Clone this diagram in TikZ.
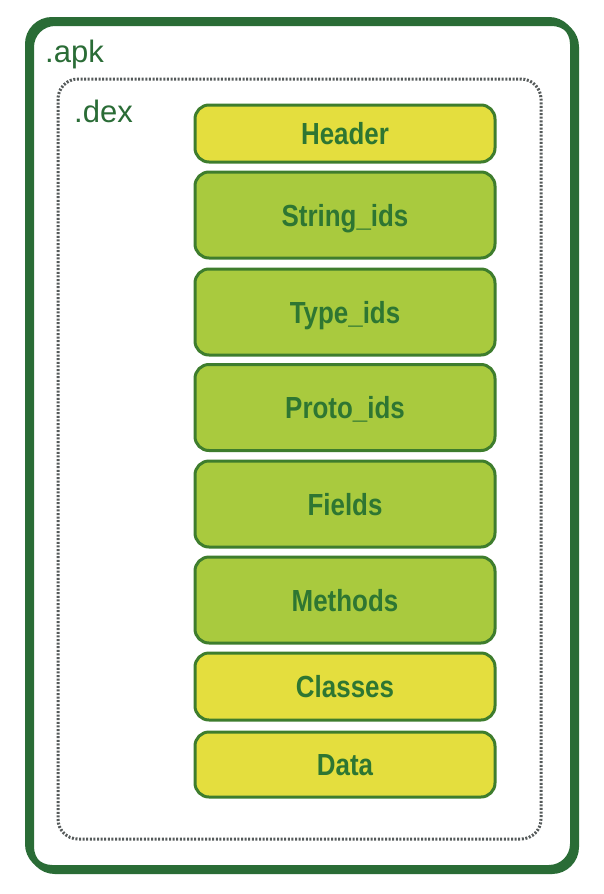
\documentclass[tikz,border=0pt]{standalone}
\usepackage{fontspec}
\setmainfont{Liberation Sans}
\newfontfamily\condfont[FakeStretch=0.85]{Liberation Sans}
\definecolor{frameg}{RGB}{42,108,54}
\definecolor{boxborder}{RGB}{62,125,45}
\definecolor{txtg}{RGB}{46,118,50}
\definecolor{yel}{RGB}{228,222,62}
\definecolor{grn}{RGB}{169,202,62}
\definecolor{dotg}{RGB}{85,90,90}
\tikzset{
  stepbox/.style={draw=boxborder, line width=3pt, rounded corners=14pt,
    minimum width=300pt, inner sep=0pt, text=txtg,
    font=\condfont\bfseries\fontsize{30.5}{30.5}\selectfont, text height=22pt, text depth=0pt},
  yelbox/.style={stepbox, fill=yel},
  grnbox/.style={stepbox, fill=grn},
  lbl/.style={text=frameg, font=\fontsize{31}{31}\selectfont, inner sep=0pt, anchor=base west}
}
\begin{document}
\begin{tikzpicture}[x=1pt,y=-1pt]
\useasboundingbox (0,0) rectangle (604,894);
\fill[white] (0,0) rectangle (604,894);
% outer frame with shadow
\draw[frameg, line width=6pt, rounded corners=24pt] (31,23) rectangle (576,871);
\draw[frameg, line width=6pt, rounded corners=24pt] (28,20) rectangle (573,868);
\node[lbl] (apk) at (45,62) {.apk};
% dotted dex box
\draw[dotg, line width=3pt, dash pattern=on 2pt off 1.6pt, rounded corners=20pt] (58,79) rectangle (541,839);
\node[lbl] (dex) at (74,122) {.dex};
% sections
\node[yelbox, minimum height=57pt] (header) at (345,133.5) {Header};
\node[grnbox, minimum height=86pt] (strids) at (345,215) {String\_ids};
\node[grnbox, minimum height=86pt] (typeids) at (345,312) {Type\_ids};
\node[grnbox, minimum height=86pt] (protoids) at (345,407.5) {Proto\_ids};
\node[grnbox, minimum height=86pt] (fields) at (345,504) {Fields};
\node[grnbox, minimum height=86pt] (methods) at (345,600) {Methods};
\node[yelbox, minimum height=67pt] (classes) at (345,686.5) {Classes};
\node[yelbox, minimum height=65pt] (data) at (345,764.5) {Data};
\end{tikzpicture}
\end{document}
